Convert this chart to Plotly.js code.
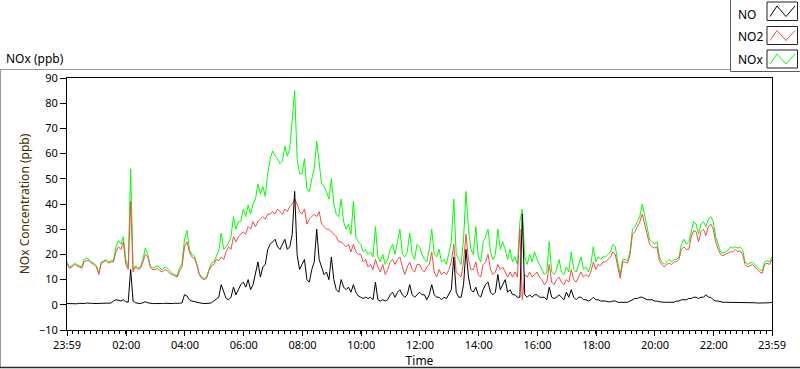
<!DOCTYPE html>
<html><head><meta charset="utf-8">
<script src="https://cdn.plot.ly/plotly-3.0.1.min.js"></script>
<style>html,body{margin:0;padding:0;background:#fff}#chart{width:800px;height:369px}</style>
</head><body><div id="chart"></div>
<script>
// ---- data (5-minute readings from 23:59 to 23:59) ----
const startTime = [2020, 0, 1, 23, 59];
const stepMinutes = 5;

const seriesNames = ["NO", "NO2", "NOx"];
const seriesColors = ["#000000", "#ff4646", "#00ff00"];

const noValues = [
  0.5,0.4,0.6,0.5,0.4,0.6,0.5,0.5,0.7,0.5,0.6,0.5,
  0.5,0.6,0.5,0.5,0.6,0.5,0.7,1.5,2,1.8,1.5,2,
  1.2,1,14,1.5,0.8,0.6,0.5,0.8,1.2,0.8,0.6,0.5,
  0.5,0.4,0.6,0.5,0.6,0.5,0.4,0.5,0.6,0.5,0.6,0.8,
  4,3.5,2,1.5,1.2,1,0.8,0.6,0.5,0.5,0.6,0.8,
  1.5,2,3,8,5,2.5,2,3,7,4,6,8,
  9,7,10,6,8,13,17,11,15,16,22,24,
  25,26,23,22,24,26,22,23,28,45,20,14,
  16,18,10,9,14,17,30,18,15,12,13,10,
  19,10,6,5,10,7,6,7,5,8,5,3.5,
  3,2.5,3,2.5,3,2,9,2,1.5,2,1.5,2,
  4,5,3,5,6,4,3,4,8,4,3,4,
  5,4,4,2,4,8,4,3,3,2,3,2.5,
  4,6,19,5,3,3,8,22,11,6,5,7,
  4,3,6,8,9,5,4,5,12,6,8,10,
  5,6,4,4,3,3,36,4,3,4,3,4,
  4,3,3,3,2,7,3,2.5,3,4,3,2,
  5,3,6,3,2,3,3,2,2,1.5,2,3,
  2,2,1.5,1.5,1.5,1.2,1.2,1.5,1.5,1,1,1,
  1,1,1.5,2,2.5,2.5,3,3,2.5,2,2,2,
  1.5,1.5,1.2,1,1,1,1,1,1,1.5,1.5,2,
  2,2,2.5,2.5,3,3,2.5,3,3,4,3,3,
  2,1.5,1.5,1.2,1,1,1,1,1,1,1,1,
  1,0.8,0.8,0.8,0.8,0.8,0.7,0.7,0.7,0.8,0.8,0.8,
  1
];

const no2Values = [
  16.5,14.5,15,16,15.5,15,14.5,17,17.5,17.5,16.5,16,
  15,12,16.5,17,17.5,16.5,17,17,21,23,22,25,
  16,14,41,13,15,14,14.5,17,20,19,15,14,
  14,14.5,13.5,13,14,13.5,12.5,12,11.5,11,13.5,15,
  23,25,21,19,18.5,16,12,10.5,10,10.5,13.5,15.5,
  16,18,17.5,19,18,21,23,22,27,25,27,28,
  29,28,31,30,33,31,33,34,35,34,36,36,
  37,36,38,37,36,38,37,39,40,42,40,37,
  36,38,32,34,35,36,35,37,32,31,30,30,
  29,28,27,25,25,24,23,24,21,24,21,20,
  20,17,18,15,16,14,18,15,13,16,12,14,
  17,18,16,18,19,15,12,15,17,14,13,16,
  16,14,13,15,16,21,13,11,14,12,13,12,
  14,17,24,13,12,11,17,28,18,14,14,17,
  12,11,16,17,20,14,12,13,16,14,15,13,
  11,13,11,13,11,30,2,12,11,13,11,12,
  13,11,10,8,9,16,9,8,10,11,9,8,
  10,9,14,10,9,11,13,11,12,11,13,17,
  14,16,15.5,17,17,18,19,21,20,15,10.5,17,
  17,16.5,20,28,29,31,33,36,32,28,24,23,
  22.5,23,17.5,16,15,16,16.5,16,17,17,18,22,
  23,22,22,27,29.5,29,25,29,30,27.5,31,32,
  30,25,22,20,19.5,20,20.5,21,21,22,21,21.5,
  20,16,15,15.5,16,15,14,13,12.5,16,16.5,16,
  18
];

const noxValues = [
  17,15,15.5,16.5,16,15.5,15,18,18.5,18,17,16.5,
  15.5,12.5,17,17.5,18,17,17.5,17.5,23,25.5,24,27,
  18,15,54,14,15.5,14.5,15,18,22.5,20,15.5,14.5,
  15,15.5,14.5,14,15,14.5,13.5,12.5,12,11.5,14.5,16.5,
  26,29.5,22,20,19.5,16.5,12.5,11,10.5,11,14,16.5,
  17,19,21.5,28.5,22,23,24.5,27,35,30,33,33,
  38,35,39.5,36,40,42,48,44,47,43,52,58,
  61,59,58,56,57,63,59,62,72,85,58,52,
  52,58,46,45,50,54,65,56,48,47,45,42,
  50,40,36,35,42,33,30,32,28,41,27,25,
  24,21,22,20,21,19,31,19,17,20,16,18,
  22,24,20,25,30,20,19,21,28.5,20,18,24,
  23,20,18,17,22,30,20,19,22,17,18,16,
  20,25,42,20,18,16,26,45,30,22,20,31,
  19,17,25,27,30,21,18,20,30,22,25,22,
  18,22,17,19,16,33,38,19,16,20,17,21,
  18,16,14,12,13,25,13,12,14,18,13,12,
  15,13,21,14,13,16,19,14,15,13,16,23,
  17,19,18,19,19,20,21,24,23,17,12,18,
  18,17.5,21,30,31,33,35,40,35,30,26,25,
  24,25,19,17,16,17,18,17,18,18,19,24,
  26,24,25,29,33,32,28,32,33,31,34,35,
  33,27,24,21,20.5,21,21.5,23,22.5,23,22.5,23,
  22,17,16,16.5,17,16,15,14,13.5,17,17.5,17,
  19
];

const tickTimes = ["2020-01-01 23:59","2020-01-02 02:00","2020-01-02 04:00","2020-01-02 06:00",
  "2020-01-02 08:00","2020-01-02 10:00","2020-01-02 12:00","2020-01-02 14:00","2020-01-02 16:00",
  "2020-01-02 18:00","2020-01-02 20:00","2020-01-02 22:00","2020-01-02 23:59"];
const tickLabels = ["23:59","02:00","04:00","06:00","08:00","10:00","12:00","14:00","16:00",
  "18:00","20:00","22:00","23:59"];
const yTicks = [-10,0,10,20,30,40,50,60,70,80,90];

// ---- build times ----
const baseMs = Date.UTC(startTime[0], startTime[1], startTime[2], startTime[3], startTime[4]);
function fmt(ms){ return new Date(ms).toISOString().slice(0,16).replace('T',' '); }
const times = noValues.map((_, i) => fmt(baseMs + i * stepMinutes * 60000));
const tStart = times[0], tEnd = times[times.length - 1];

const FONT = "Noto Sans, Liberation Sans, Arial, sans-serif";

const traces = [
  {x: times, y: noxValues, name: seriesNames[2], line: {color: seriesColors[2], width: 1}},
  {x: times, y: no2Values, name: seriesNames[1], line: {color: seriesColors[1], width: 1}},
  {x: times, y: noValues,  name: seriesNames[0], line: {color: seriesColors[0], width: 1}}
].map(t => Object.assign({type: 'scatter', mode: 'lines', hoverinfo: 'skip', showlegend: false}, t));

// pixel -> paper helpers for decorations
const L = 67, R = 772, T = 78, B = 330;
const px = x => (x - L) / (R - L);
const py = y => (B - y) / (B - T);

const shapes = [];
const annotations = [];
function line(x0,y0,x1,y1,color,w){
  shapes.push({type:'line', xref:'paper', yref:'paper', x0:px(x0), y0:py(y0), x1:px(x1), y1:py(y1), line:{color:color, width:w||1}});
}
// outer panel frame
line(0, 69.5, 731, 69.5, '#9a9a9a');
line(0.5, 69.5, 0.5, 367.5, '#9a9a9a');
line(0, 367.5, 800, 367.5, '#2a2a2a', 1.5);
// legend box
shapes.push({type:'rect', xref:'paper', yref:'paper', x0:px(730.5), y0:py(-2), x1:px(801), y1:py(71.5),
  fillcolor:'#ffffff', line:{color:'#5a5a5a', width:1}});
const legendY = [[2, 20.5], [26.5, 44.5], [50, 68]];
const legendTextY = [14, 36.5, 59.5];
seriesNames.forEach((n, k) => {
  const [y0, y1] = legendY[k];
  shapes.push({type:'rect', xref:'paper', yref:'paper', x0:px(767), y0:py(y0), x1:px(797.5), y1:py(y1),
    fillcolor:'#ffffff', line:{color:'#222', width:1}});
  const yb = y1 - 4, yt = y0 + 4;
  const pts = [[770, yb], [777, yt], [786, yb], [795, yt]];
  const path = 'M' + pts.map(p => px(p[0]) + ',' + py(p[1])).join(' L');
  shapes.push({type:'path', xref:'paper', yref:'paper', path: path, line:{color: seriesColors[k], width:1}});
  annotations.push({xref:'paper', yref:'paper', x:px(736), y:py(legendTextY[k]), xanchor:'left', yanchor:'middle',
    text:n, showarrow:false, font:{family:FONT, size:12, color:'#000'}});
});
annotations.push({xref:'paper', yref:'paper', x:px(4), y:py(58), xanchor:'left', yanchor:'middle',
  text:'NOx (ppb)', showarrow:false, font:{family:FONT, size:12, color:'#000'}});

const layout = {
  width: 800, height: 369,
  margin: {l: L, r: 800 - R, t: T, b: 369 - B, pad: 0},
  paper_bgcolor: '#ffffff', plot_bgcolor: '#ffffff',
  font: {family: FONT, size: 11, color: '#000'},
  xaxis: {
    type: 'date', range: [tStart, tEnd], tickmode: 'array', tickvals: tickTimes, ticktext: tickLabels,
    ticks: 'outside', ticklen: 5, tickcolor: '#000', tickwidth: 1,
    showline: true, linecolor: '#000', linewidth: 1, mirror: true,
    showgrid: false, zeroline: false, tickfont: {family: FONT, size: 11, color: '#000'},
    minor: {ticks: 'outside', ticklen: 3, tickcolor: '#000', tickmode: 'linear', tick0: tStart, dtick: 12 * 60000, showgrid: false},
    title: {text: 'Time', font: {family: FONT, size: 12, color: '#000'}, standoff: 4}
  },
  yaxis: {
    range: [-10, 90], tickmode: 'array', tickvals: yTicks,
    ticks: 'outside', ticklen: 6, tickcolor: '#000',
    showline: true, linecolor: '#000', linewidth: 1, mirror: true,
    showgrid: false, zeroline: false, tickfont: {family: FONT, size: 11, color: '#000'},
    title: {text: 'NOx Concentration (ppb)', font: {family: FONT, size: 12, color: '#3b3000'}, standoff: 6}
  },
  shapes: shapes,
  annotations: annotations,
  showlegend: false
};

Plotly.newPlot('chart', traces, layout, {staticPlot: true, displayModeBar: false});
</script>
</body></html>
